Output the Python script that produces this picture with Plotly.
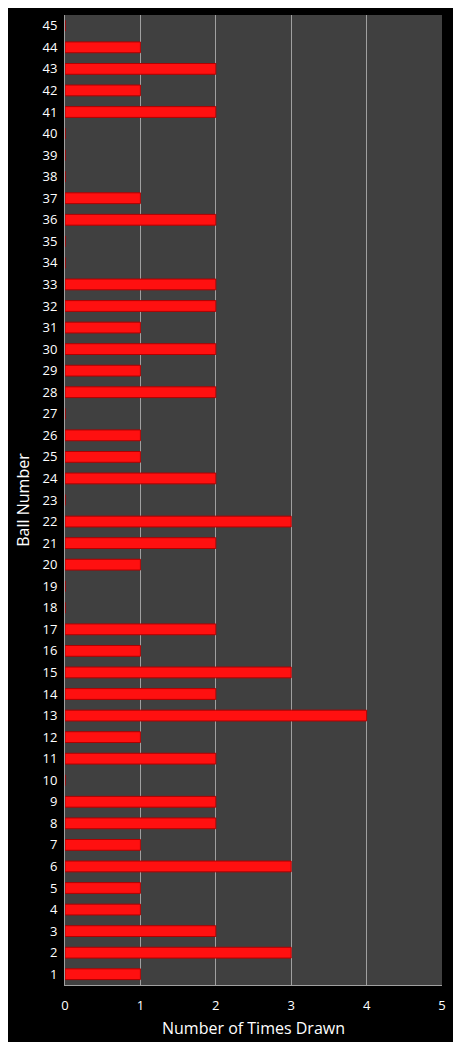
import plotly.graph_objects as go

balls = list(range(1, 46))
times_drawn = [1, 3, 2, 1, 1, 3, 1, 2, 2, 0,
               2, 1, 4, 2, 3, 1, 2, 0, 0, 1,
               2, 3, 0, 2, 1, 1, 0, 2, 1, 2,
               1, 2, 2, 0, 0, 2, 1, 0, 0, 0,
               2, 1, 2, 1, 0]

fig = go.Figure(go.Bar(
    x=times_drawn, y=balls, orientation="h", width=0.5,
    marker=dict(color="#ff1010", line=dict(color="#b00000", width=1)),
))

# page body has an 8px margin, so the figure is sized to fit inside it
fig.update_layout(
    width=445, height=1034,
    margin=dict(l=57, r=8, t=7, b=57),
    paper_bgcolor="black", plot_bgcolor="#404040",
    font=dict(family="Open Sans, DejaVu Sans", color="white", size=13),
    showlegend=False,
)
fig.update_xaxes(
    range=[0, 5], dtick=1, showgrid=True, gridcolor="#a0a0a0", gridwidth=1,
    zeroline=False, showline=True, linecolor="#a0a0a0",
    title=dict(text="Number of Times Drawn", font=dict(size=16), standoff=10),
    ticks="", ticklabelstandoff=8,
)
fig.update_yaxes(
    range=[0.5, 45.5], dtick=1, showgrid=False, zeroline=False,
    showline=True, linecolor="#a0a0a0",
    title=dict(text="Ball Number", font=dict(size=16), standoff=8),
    ticklabelstandoff=4,
)

fig.write_html("out.html")
